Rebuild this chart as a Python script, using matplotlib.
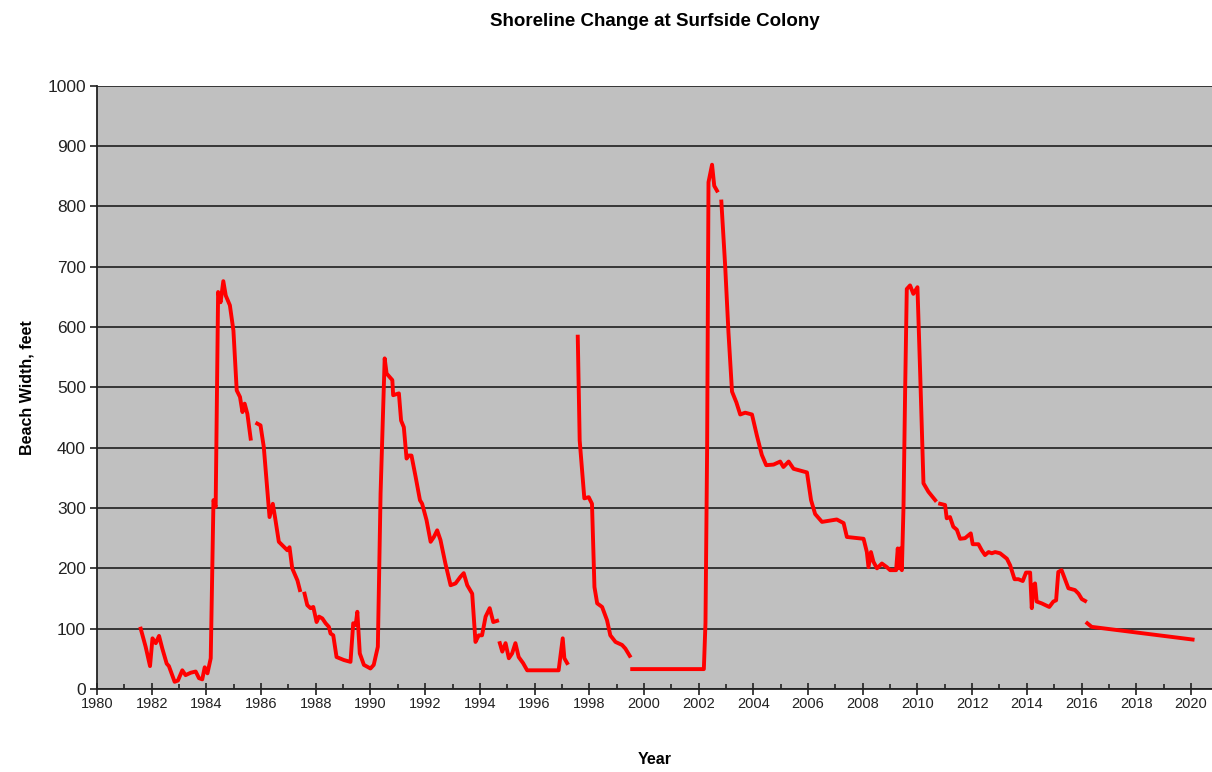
import matplotlib.pyplot as plt
import numpy as np

# beach width readings, split where the survey record has gaps
yr_a = [1981.60, 1981.78, 1981.94, 1982.03, 1982.15, 1982.27, 1982.39, 1982.55, 1982.63,
        1982.84, 1982.96, 1983.12, 1983.24, 1983.43, 1983.61, 1983.73, 1983.85, 1983.94,
        1984.04, 1984.16, 1984.26, 1984.34, 1984.43, 1984.52, 1984.62, 1984.71, 1984.86,
        1984.99, 1985.11, 1985.23, 1985.32, 1985.40, 1985.50, 1985.62]
bw_a = [100, 70, 38, 84, 76, 88, 67, 42, 38,
        12, 14, 31, 23, 27, 29, 18, 16, 36,
        26, 51, 313, 302, 658, 641, 676, 652, 636,
        594, 495, 484, 459, 473, 456, 415]

yr_b = [1985.86, 1985.98, 1986.10, 1986.23, 1986.31, 1986.43, 1986.51, 1986.65, 1986.96,
        1987.04, 1987.14, 1987.33, 1987.42]
bw_b = [440, 437, 401, 329, 285, 307, 285, 244, 230,
        235, 200, 180, 164]

yr_c = [1987.59, 1987.69, 1987.81, 1987.91, 1988.03, 1988.12, 1988.24, 1988.36, 1988.48,
        1988.54, 1988.64, 1988.76, 1989.03, 1989.27, 1989.37, 1989.46, 1989.52, 1989.61,
        1989.76, 1990.00, 1990.12, 1990.27, 1990.37, 1990.52, 1990.59, 1990.80, 1990.83,
        1991.04, 1991.12, 1991.22, 1991.32, 1991.40, 1991.50, 1991.65, 1991.81, 1991.89,
        1992.05, 1992.20, 1992.32, 1992.44, 1992.56, 1992.74, 1992.93, 1993.11, 1993.29,
        1993.41, 1993.54, 1993.72, 1993.84, 1993.96, 1994.08, 1994.21, 1994.36, 1994.49,
        1994.63]
bw_c = [158, 139, 134, 136, 111, 120, 117, 109, 103,
        92, 89, 53, 48, 45, 109, 106, 128, 59,
        40, 34, 40, 70, 324, 548, 523, 512, 487,
        490, 445, 434, 382, 387, 387, 352, 313, 307,
        280, 244, 252, 263, 247, 208, 172, 175, 186,
        192, 172, 158, 78, 89, 89, 120, 134, 111,
        113]

yr_d = [1994.73, 1994.82, 1994.94, 1995.06, 1995.18, 1995.30, 1995.42, 1995.58, 1995.73,
        1996.88, 1997.03, 1997.09, 1997.19]
bw_d = [76, 62, 76, 51, 59, 76, 53, 43, 31,
        31, 84, 51, 43]

yr_e = [1997.58, 1997.65, 1997.82, 1997.98, 1998.10, 1998.19, 1998.29, 1998.47, 1998.65,
        1998.77, 1998.96, 1999.20, 1999.32, 1999.48]
bw_e = [584, 412, 316, 318, 307, 169, 142, 136, 114,
        89, 78, 73, 67, 55]

yr_f = [1999.57, 2002.19, 2002.25, 2002.31, 2002.36, 2002.49, 2002.57, 2002.67]
bw_f = [33, 33, 110, 400, 840, 869, 834, 826]

yr_g = [2002.83, 2002.97, 2003.09, 2003.22, 2003.38, 2003.52, 2003.70, 2003.95, 2004.13,
        2004.31, 2004.47, 2004.74, 2004.98, 2005.10, 2005.29, 2005.47, 2005.96, 2006.11,
        2006.26, 2006.51, 2007.05, 2007.30, 2007.42, 2008.03, 2008.15, 2008.21, 2008.30,
        2008.39, 2008.52, 2008.70, 2008.88, 2009.00, 2009.22, 2009.28, 2009.34, 2009.37,
        2009.43, 2009.49, 2009.55, 2009.61, 2009.73, 2009.85, 2010.00, 2010.10, 2010.22,
        2010.40, 2010.65]
bw_g = [808, 701, 591, 493, 475, 455, 458, 455, 420,
        388, 371, 372, 377, 368, 377, 365, 359, 313,
        290, 277, 281, 275, 252, 249, 227, 202, 227,
        211, 200, 208, 202, 197, 197, 233, 200, 233,
        197, 302, 495, 663, 669, 655, 666, 523, 341,
        327, 313]

yr_h = [2010.83, 2011.01, 2011.07, 2011.19, 2011.31, 2011.44, 2011.56, 2011.74, 2011.95,
        2012.02, 2012.23, 2012.35, 2012.47, 2012.60, 2012.72, 2012.84, 2013.02, 2013.27,
        2013.39, 2013.55, 2013.69, 2013.85, 2013.97, 2014.12, 2014.18, 2014.24, 2014.30,
        2014.36, 2014.54, 2014.82, 2014.97, 2015.07, 2015.15, 2015.27, 2015.52, 2015.76,
        2015.89, 2016.01, 2016.13]
bw_h = [307, 305, 283, 285, 269, 264, 249, 250, 258,
        240, 240, 230, 222, 227, 225, 227, 225, 216,
        205, 182, 182, 179, 193, 193, 134, 172, 175,
        145, 142, 136, 145, 147, 194, 197, 167, 164,
        158, 149, 146]

yr_i = [2016.21, 2016.37, 2020.06]
bw_i = [109, 103, 82]

segments = [(yr_a, bw_a), (yr_b, bw_b), (yr_c, bw_c), (yr_d, bw_d), (yr_e, bw_e),
            (yr_f, bw_f), (yr_g, bw_g), (yr_h, bw_h), (yr_i, bw_i)]

plt.rcParams['font.family'] = ['Liberation Sans', 'DejaVu Sans']

fig = plt.figure(figsize=(12.12, 7.72), dpi=100)
ax = fig.add_axes([0.080, 0.1075, 0.920, 0.7815])
ax.set_facecolor('#c0c0c0')

for xs, ys in segments:
    ax.plot(xs, ys, color='#ff0000', lw=2.8, solid_joinstyle='round', zorder=3)

ax.set_xlim(1980, 2020.77)
ax.set_ylim(0, 1000)
ax.set_xticks(np.arange(1980, 2021, 2))
ax.set_xticks(np.arange(1981, 2021, 2), minor=True)
ax.set_yticks(np.arange(0, 1001, 100))

ax.yaxis.grid(True, color='#2b2b2b', lw=1.3)
ax.set_axisbelow(True)

for side in ['top', 'right']:
    ax.spines[side].set_visible(False)
ax.spines['left'].set_color('#222222')
ax.spines['bottom'].set_color('#222222')
ax.spines['left'].set_linewidth(1.3)
ax.spines['bottom'].set_linewidth(1.3)

ax.tick_params(axis='y', direction='out', length=5, width=1.2, color='#222222',
               labelsize=12.5, labelcolor='#222222', pad=3)
ax.tick_params(axis='x', which='major', direction='inout', length=8, width=1.2,
               color='#222222', labelsize=10.5, labelcolor='#222222', pad=2)
ax.tick_params(axis='x', which='minor', direction='in', length=3.5, width=1.2,
               color='#222222')

ax.set_title('Shoreline Change at Surfside Colony', fontsize=13.5, fontweight='bold',
             pad=43)
ax.set_ylabel('Beach Width, feet', fontsize=11.5, fontweight='bold', labelpad=9)
ax.set_xlabel('Year', fontsize=11.5, fontweight='bold', labelpad=29)

plt.savefig('out.png', dpi=100)
plt.close()
